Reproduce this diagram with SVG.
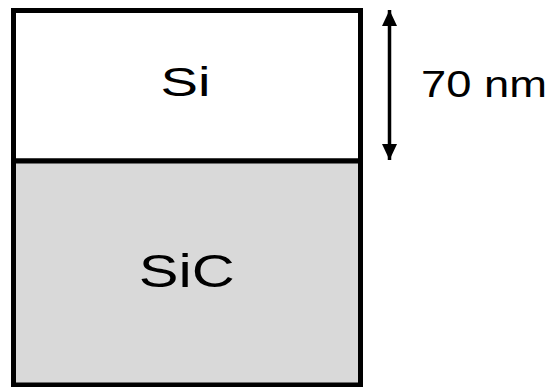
<svg xmlns="http://www.w3.org/2000/svg" width="548" height="387" viewBox="0 0 548 387">
<style>
.lbl{font-family:"Liberation Sans",Arial,sans-serif;fill:#000}
.box{stroke:#000;stroke-width:5}
</style>
<defs>
<marker id="ah" markerUnits="userSpaceOnUse" markerWidth="16" markerHeight="16" refX="16" refY="7.5" orient="auto-start-reverse" viewBox="0 0 16 15">
<path d="M0,0 L16,7.5 L0,15 Z" fill="#000"/>
</marker>
</defs>
<g id="si-layer">
<rect class="box" x="13.5" y="10.5" width="347" height="150.5" fill="#fff"/>
<text class="lbl" x="185.5" y="96" font-size="40" text-anchor="middle" textLength="50" lengthAdjust="spacingAndGlyphs">Si</text>
</g>
<g id="sic-layer">
<rect class="box" x="13.5" y="161" width="347" height="224" fill="#d9d9d9"/>
<text class="lbl" x="186.7" y="287" font-size="46" text-anchor="middle" textLength="96" lengthAdjust="spacingAndGlyphs">SiC</text>
</g>
<g id="connectors">
<line x1="389.5" y1="10" x2="389.5" y2="160" stroke="#000" stroke-width="3.5" marker-start="url(#ah)" marker-end="url(#ah)"/>
</g>
<g id="dimension-label">
<text class="lbl" x="421" y="96.5" font-size="37.5" textLength="126" lengthAdjust="spacingAndGlyphs">70 nm</text>
</g>
</svg>
